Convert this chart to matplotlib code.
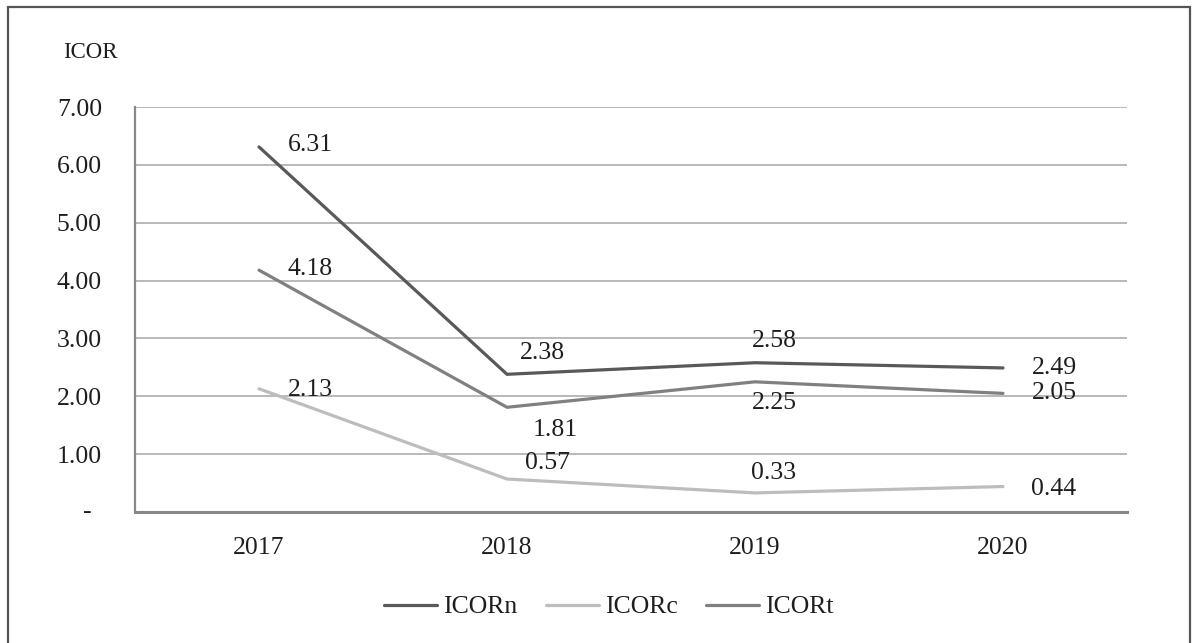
import matplotlib
matplotlib.use("Agg")
import matplotlib.pyplot as plt
from matplotlib.patches import Rectangle

# ---- data ----
years = ["2017", "2018", "2019", "2020"]
icor_n = [6.31, 2.38, 2.58, 2.49]
icor_c = [2.13, 0.57, 0.33, 0.44]
icor_t = [4.18, 1.81, 2.25, 2.05]
series_names = ["ICORn", "ICORc", "ICORt"]
y_ticks = [0, 1, 2, 3, 4, 5, 6, 7]

# ---- style ----
plt.rcParams['font.family'] = ['Liberation Serif', 'DejaVu Serif']
TXT = '#1e1e1e'
colors = ['#595959', '#BDBDBD', '#808080']
# label offsets (pixels, dx right, dy up) per series per point
offsets = [
    [(51, 2), (35, 21), (19, 22), (51, 0)],
    [(51, -1), (41, 16), (19, 20), (51, -2)],
    [(51, 1), (48, -23), (19, -21), (51, 0)],
]
PX = 0.72  # points per pixel at dpi 100

W, H = 1197, 643
fig = plt.figure(figsize=(W / 100, H / 100), dpi=100)
ax = fig.add_axes([135 / W, 1 - 512 / H, (1127 - 135) / W, (512 - 107) / H])

x = list(range(len(years)))
all_series = [icor_n, icor_c, icor_t]
for vals, name, col in zip(all_series, series_names, colors):
    ax.plot(x, vals, color=col, lw=2.3, label=name, solid_capstyle='round',
            solid_joinstyle='miter', zorder=3)

for vals, col, offs in zip(all_series, colors, offsets):
    for xi, v, (dx, dy) in zip(x, vals, offs):
        ax.annotate(f"{v:.2f}", xy=(xi, v), xytext=(dx * PX, dy * PX),
                    textcoords='offset points', ha='center', va='center',
                    fontsize=18.5, color=TXT, zorder=4)

ax.set_xlim(-0.5, len(years) - 0.5)
ax.set_ylim(0, 7)
ax.set_xticks(x)
ax.set_xticklabels(years, fontsize=18.5, color=TXT)
ax.set_yticks(y_ticks)
ax.set_yticklabels([f"{t:.2f}" if t != 0 else "" for t in y_ticks],
                   fontsize=18.5, color=TXT)
ax.annotate("-", xy=(0, 0), xycoords=('axes fraction', 'data'),
            xytext=(-48 * PX, 0), textcoords='offset points',
            ha='center', va='center', fontsize=18.5, color=TXT)
ax.tick_params(axis='both', length=0)
ax.tick_params(axis='y', pad=33 * PX)
ax.tick_params(axis='x', pad=25 * PX)

ax.grid(axis='y', color='#A6A6A6', lw=1.1, zorder=0)
ax.set_axisbelow(True)
for s in ['top', 'right']:
    ax.spines[s].set_visible(False)
ax.spines['left'].set_color('#888888')
ax.spines['left'].set_linewidth(1.6)
ax.spines['bottom'].set_color('#888888')
ax.spines['bottom'].set_linewidth(2.2)

fig.text(90 / W, 1 - 52 / H, "ICOR", ha='center', va='center',
         fontsize=16.5, color=TXT)

fig.legend(loc='center', bbox_to_anchor=(609 / W, 1 - 607 / H), ncol=3,
           frameon=False, fontsize=18.5, handlelength=2.05,
           handletextpad=0.25, columnspacing=1.1, labelcolor=TXT)

fig.patches.append(Rectangle((8 / W, -0.05), (1190 - 8) / W, 1 - 7 / H + 0.05,
                             transform=fig.transFigure, fill=False,
                             ec='#555555', lw=1.6, zorder=0))

fig.savefig("out.png", dpi=100)
